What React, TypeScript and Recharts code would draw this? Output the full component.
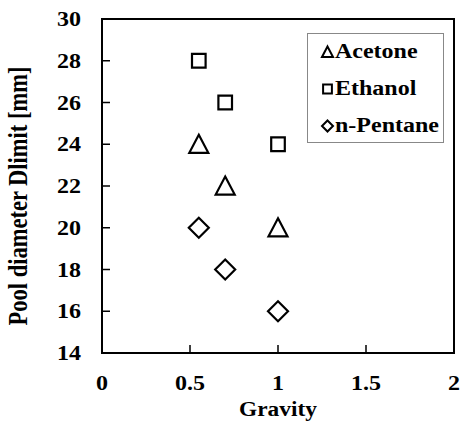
import { Scatter, ScatterChart, XAxis, YAxis } from 'recharts';

const FONT = '"Times New Roman", "Liberation Serif", serif';
const STRETCH = 1.2;

const acetone = [
  { g: 0.55, d: 24 },
  { g: 0.7, d: 22 },
  { g: 1, d: 20 },
];
const ethanol = [
  { g: 0.55, d: 28 },
  { g: 0.7, d: 26 },
  { g: 1, d: 24 },
];
const pentane = [
  { g: 0.55, d: 20 },
  { g: 0.7, d: 18 },
  { g: 1, d: 16 },
];
const xTicks = [0, 0.5, 1, 1.5, 2];
const yTicks = [14, 16, 18, 20, 22, 24, 26, 28, 30];
const legendItems = [
  { name: 'Acetone', kind: 'tri' },
  { name: 'Ethanol', kind: 'sq' },
  { name: 'n-Pentane', kind: 'dia' },
];

// plot box = chart size minus margins / axis sizes below
const W = 460;
const H = 421;
const M = { top: 19, right: 6, left: 0, bottom: 0 };
const Y_W = 102;
const X_H = 68;
const PL = M.left + Y_W;
const PR = W - M.right;
const PT = M.top;
const PB = H - M.bottom - X_H;
const px = (v: number) => PL + (v / 2) * (PR - PL);
const py = (v: number) => PB - ((v - 14) / 16) * (PB - PT);

function markerPath(kind: string, cx: number, cy: number, s: number) {
  const h = s / 2;
  if (kind === 'tri') return `M${cx},${cy - h}L${cx + h},${cy + h * 0.9}L${cx - h},${cy + h * 0.9}Z`;
  if (kind === 'sq') {
    const q = h * 0.8;
    return `M${cx - q},${cy - q}H${cx + q}V${cy + q}H${cx - q}Z`;
  }
  return `M${cx},${cy - h}L${cx + h},${cy}L${cx},${cy + h}L${cx - h},${cy}Z`;
}

const makeShape = (kind: string, size: number) => (props: any) => (
  <path d={markerPath(kind, props.cx, props.cy, size)} fill="none" stroke="#000" strokeWidth={2.2} />
);

function YTick(props: any) {
  return (
    <text
      transform={`translate(${Number(props.x)},${Number(props.y)}) scale(${STRETCH},1)`}
      textAnchor="end"
      dy="0.35em"
      fontFamily={FONT}
      fontWeight="bold"
      fontSize={20}
      fill="#000"
    >
      {props.payload.value}
    </text>
  );
}

function XTick(props: any) {
  return (
    <text
      transform={`translate(${Number(props.x)},${Number(props.y)}) scale(${STRETCH},1)`}
      textAnchor="middle"
      fontFamily={FONT}
      fontWeight="bold"
      fontSize={20}
      fill="#000"
    >
      {props.payload.value}
    </text>
  );
}

function Overlay() {
  return (
    <svg width={W} height={H} style={{ position: 'absolute', left: 0, top: 0, pointerEvents: 'none' }}>
      {/* frame */}
      <rect x={PL - 1} y={PT - 1} width={2} height={PB - PT + 2} fill="#000" />
      <rect x={PR - 1} y={PT - 1} width={2} height={PB - PT + 2} fill="#000" />
      <rect x={PL - 1} y={PT - 1} width={PR - PL + 2} height={2} fill="#000" />
      <rect x={PL - 1} y={PB - 1} width={PR - PL + 2} height={2} fill="#000" />
      {/* inward ticks */}
      {xTicks.slice(1, -1).map((v) => (
        <rect key={`x${v}`} x={px(v) - 0.75} y={PB - 8} width={1.5} height={8} fill="#000" />
      ))}
      {yTicks.slice(1, -1).map((v) => (
        <rect key={`y${v}`} x={PL} y={py(v) - 0.75} width={8} height={1.5} fill="#000" />
      ))}
      <text
        transform="translate(278,416) scale(1.17,1)"
        textAnchor="middle"
        fontFamily={FONT}
        fontWeight="bold"
        fontSize={20}
        fill="#000"
      >
        Gravity
      </text>
      <text
        transform={`translate(27,196) scale(${STRETCH},1) rotate(-90)`}
        textAnchor="middle"
        fontFamily={FONT}
        fontWeight="bold"
        fontSize={22.5}
        fill="#000"
      >
        Pool diameter  Dlimit [mm]
      </text>
      <rect x={307.5} y={33.5} width={136} height={109} fill="#fff" stroke="#888" strokeWidth={1} />
      {legendItems.map((it, i) => {
        const base = 58 + i * 37;
        return (
          <g key={it.name}>
            <path d={markerPath(it.kind, 327.5, base - 6, 11)} fill="none" stroke="#000" strokeWidth={2} />
            <text
              transform={`translate(335,${base}) scale(${STRETCH},1)`}
              fontFamily={FONT}
              fontWeight="bold"
              fontSize={20}
              fill="#000"
            >
              {it.name}
            </text>
          </g>
        );
      })}
    </svg>
  );
}

export default function App() {
  return (
    <div style={{ position: 'absolute', left: 0, top: 0, width: W, height: H, background: '#fff' }}>
      <ScatterChart width={W} height={H} margin={M}>
        <XAxis
          type="number"
          dataKey="g"
          domain={[0, 2]}
          ticks={xTicks}
          height={X_H}
          tick={<XTick />}
          tickSize={0}
          tickMargin={37}
          axisLine={false}
          tickLine={false}
        />
        <YAxis
          type="number"
          dataKey="d"
          domain={[14, 30]}
          ticks={yTicks}
          width={Y_W}
          tick={<YTick />}
          tickSize={0}
          tickMargin={21}
          axisLine={false}
          tickLine={false}
        />
        <Scatter name="Acetone" data={acetone} shape={makeShape('tri', 19)} isAnimationActive={false} />
        <Scatter name="Ethanol" data={ethanol} shape={makeShape('sq', 17)} isAnimationActive={false} />
        <Scatter name="n-Pentane" data={pentane} shape={makeShape('dia', 20)} isAnimationActive={false} />
      </ScatterChart>
      <Overlay />
    </div>
  );
}
